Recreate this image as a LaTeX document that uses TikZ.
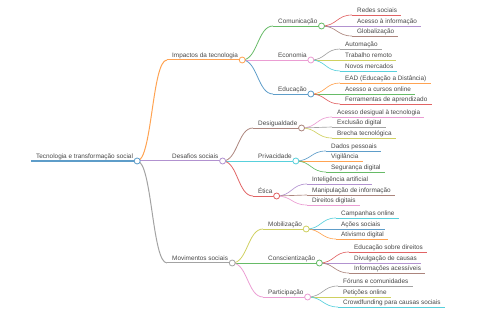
\documentclass[tikz,border=0pt]{standalone}
\usepackage{fontspec}
\setmainfont{Liberation Sans}
\usetikzlibrary{calc}
\definecolor{C0}{HTML}{1F77B4}
\definecolor{C1}{HTML}{FF7F0E}
\definecolor{C2}{HTML}{2CA02C}
\definecolor{C3}{HTML}{D62728}
\definecolor{C4}{HTML}{9467BD}
\definecolor{C5}{HTML}{8C564B}
\definecolor{C6}{HTML}{E377C2}
\definecolor{C7}{HTML}{7F7F7F}
\definecolor{C8}{HTML}{BCBD22}
\definecolor{C9}{HTML}{17BECF}
\colorlet{c0}{C0!72!white}
\colorlet{c1}{C1!72!white}
\colorlet{c2}{C2!72!white}
\colorlet{c3}{C3!72!white}
\colorlet{c4}{C4!72!white}
\colorlet{c5}{C5!72!white}
\colorlet{c6}{C6!72!white}
\colorlet{c7}{C7!72!white}
\colorlet{c8}{C8!72!white}
\colorlet{c9}{C9!72!white}
\tikzset{
  lbl/.style={inner sep=0pt, text=black!72, font=\fontsize{6.4}{7.7}\selectfont},
  d0/.style={line width=1.6pt},
  d1/.style={line width=1.0pt},
  d2/.style={line width=0.8pt},
  d3/.style={line width=0.65pt},
  knob/.style={line width=0.8pt, fill=white},
}
% name, x of line start, y of line, text
\newcommand{\mmn}[4]{%
  \coordinate (#1-s) at (#2,#3);
  \node[lbl, anchor=base west] (#1) at ([xshift=5pt,yshift=2.8pt]#1-s) {#4};
  \path (#1-s -| #1.east) ++(4pt,0pt) coordinate (#1-e);
}
% parent, child, style
\newcommand{\mml}[3]{%
  \draw[#3] let \p1=(#1-e), \p2=(#2-s) in
    (\p1) .. controls ({(\x1+\x2)/2},\y1) and ({(\x1+\x2)/2},\y2) .. (\p2);
}
% name, style
\newcommand{\mmu}[2]{\draw[#2] (#1-s) -- (#1-e);}
\newcommand{\mmk}[2]{\draw[#2,knob] (#1-e) circle[radius=3pt];}
\begin{document}
\begin{tikzpicture}[x=1pt,y=-1pt]
\useasboundingbox (0,0) rectangle (480,320);
% nodes
\mmn{root}{31}{161}{Tecnologia e transformação social}
\mmn{imp}{167}{60}{Impactos da tecnologia}
\mmn{des}{167}{161}{Desafios sociais}
\mmn{mov}{167}{263}{Movimentos sociais}
\mmn{com}{273}{26}{Comunicação}
\mmn{eco}{273}{60}{Economia}
\mmn{edu}{273}{94}{Educação}
\mmn{desig}{253}{128}{Desigualdade}
\mmn{priv}{253}{161}{Privacidade}
\mmn{eti}{253}{196}{Ética}
\mmn{mob}{263}{229}{Mobilização}
\mmn{cons}{263}{263}{Conscientização}
\mmn{part}{263}{297}{Participação}
\mmn{redes}{352}{15}{Redes sociais}
\mmn{acinf}{352}{26}{Acesso à informação}
\mmn{glob}{352}{36}{Globalização}
\mmn{auto}{340}{49}{Automação}
\mmn{trab}{340}{60}{Trabalho remoto}
\mmn{novos}{340}{71}{Novos mercados}
\mmn{ead}{340}{83}{EAD (Educação a Distância)}
\mmn{accur}{340}{94}{Acesso a cursos online}
\mmn{ferr}{340}{104}{Ferramentas de aprendizado}
\mmn{acdes}{332}{117}{Acesso desigual à tecnologia}
\mmn{excl}{332}{127}{Exclusão digital}
\mmn{brec}{332}{138}{Brecha tecnológica}
\mmn{dados}{326}{151}{Dados pessoais}
\mmn{vigi}{326}{161}{Vigilância}
\mmn{segu}{326}{172}{Segurança digital}
\mmn{intel}{307}{184}{Inteligência artificial}
\mmn{manip}{307}{195}{Manipulação de informação}
\mmn{dirt}{307}{205}{Direitos digitais}
\mmn{camp}{336}{218}{Campanhas online}
\mmn{acoes}{336}{229}{Ações sociais}
\mmn{ativ}{336}{239}{Ativismo digital}
\mmn{edudir}{349}{252}{Educação sobre direitos}
\mmn{divu}{349}{263}{Divulgação de causas}
\mmn{infor}{349}{273}{Informações acessíveis}
\mmn{foru}{338}{286}{Fóruns e comunidades}
\mmn{peti}{338}{297}{Petições online}
\mmn{crowd}{338}{307}{Crowdfunding para causas sociais}
% links
\mml{root}{imp}{c1,d1}
\mml{root}{des}{c4,d1}
\mml{root}{mov}{c7,d1}
\mml{imp}{com}{c2,d2}
\mml{imp}{eco}{c6,d2}
\mml{imp}{edu}{c0,d2}
\mml{des}{desig}{c5,d2}
\mml{des}{priv}{c9,d2}
\mml{des}{eti}{c3,d2}
\mml{mov}{mob}{c8,d2}
\mml{mov}{cons}{c2,d2}
\mml{mov}{part}{c6,d2}
\mml{com}{redes}{c3,d3}
\mml{com}{acinf}{c4,d3}
\mml{com}{glob}{c5,d3}
\mml{eco}{auto}{c7,d3}
\mml{eco}{trab}{c8,d3}
\mml{eco}{novos}{c9,d3}
\mml{edu}{ead}{c1,d3}
\mml{edu}{accur}{c2,d3}
\mml{edu}{ferr}{c3,d3}
\mml{desig}{acdes}{c6,d3}
\mml{desig}{excl}{c7,d3}
\mml{desig}{brec}{c8,d3}
\mml{priv}{dados}{c0,d3}
\mml{priv}{vigi}{c1,d3}
\mml{priv}{segu}{c2,d3}
\mml{eti}{intel}{c4,d3}
\mml{eti}{manip}{c5,d3}
\mml{eti}{dirt}{c6,d3}
\mml{mob}{camp}{c9,d3}
\mml{mob}{acoes}{c0,d3}
\mml{mob}{ativ}{c1,d3}
\mml{cons}{edudir}{c3,d3}
\mml{cons}{divu}{c4,d3}
\mml{cons}{infor}{c5,d3}
\mml{part}{foru}{c7,d3}
\mml{part}{peti}{c8,d3}
\mml{part}{crowd}{c9,d3}
% underlines
\mmu{root}{c0,d0}
\mmu{imp}{c1,d1}\mmu{des}{c4,d1}\mmu{mov}{c7,d1}
\mmu{com}{c2,d2}\mmu{eco}{c6,d2}\mmu{edu}{c0,d2}
\mmu{desig}{c5,d2}\mmu{priv}{c9,d2}\mmu{eti}{c3,d2}
\mmu{mob}{c8,d2}\mmu{cons}{c2,d2}\mmu{part}{c6,d2}
\mmu{redes}{c3,d3}\mmu{acinf}{c4,d3}\mmu{glob}{c5,d3}
\mmu{auto}{c7,d3}\mmu{trab}{c8,d3}\mmu{novos}{c9,d3}
\mmu{ead}{c1,d3}\mmu{accur}{c2,d3}\mmu{ferr}{c3,d3}
\mmu{acdes}{c6,d3}\mmu{excl}{c7,d3}\mmu{brec}{c8,d3}
\mmu{dados}{c0,d3}\mmu{vigi}{c1,d3}\mmu{segu}{c2,d3}
\mmu{intel}{c4,d3}\mmu{manip}{c5,d3}\mmu{dirt}{c6,d3}
\mmu{camp}{c9,d3}\mmu{acoes}{c0,d3}\mmu{ativ}{c1,d3}
\mmu{edudir}{c3,d3}\mmu{divu}{c4,d3}\mmu{infor}{c5,d3}
\mmu{foru}{c7,d3}\mmu{peti}{c8,d3}\mmu{crowd}{c9,d3}
% knobs
\mmk{root}{c0}
\mmk{imp}{c1}\mmk{des}{c4}\mmk{mov}{c7}
\mmk{com}{c2}\mmk{eco}{c6}\mmk{edu}{c0}
\mmk{desig}{c5}\mmk{priv}{c9}\mmk{eti}{c3}
\mmk{mob}{c8}\mmk{cons}{c2}\mmk{part}{c6}
\end{tikzpicture}
\end{document}
